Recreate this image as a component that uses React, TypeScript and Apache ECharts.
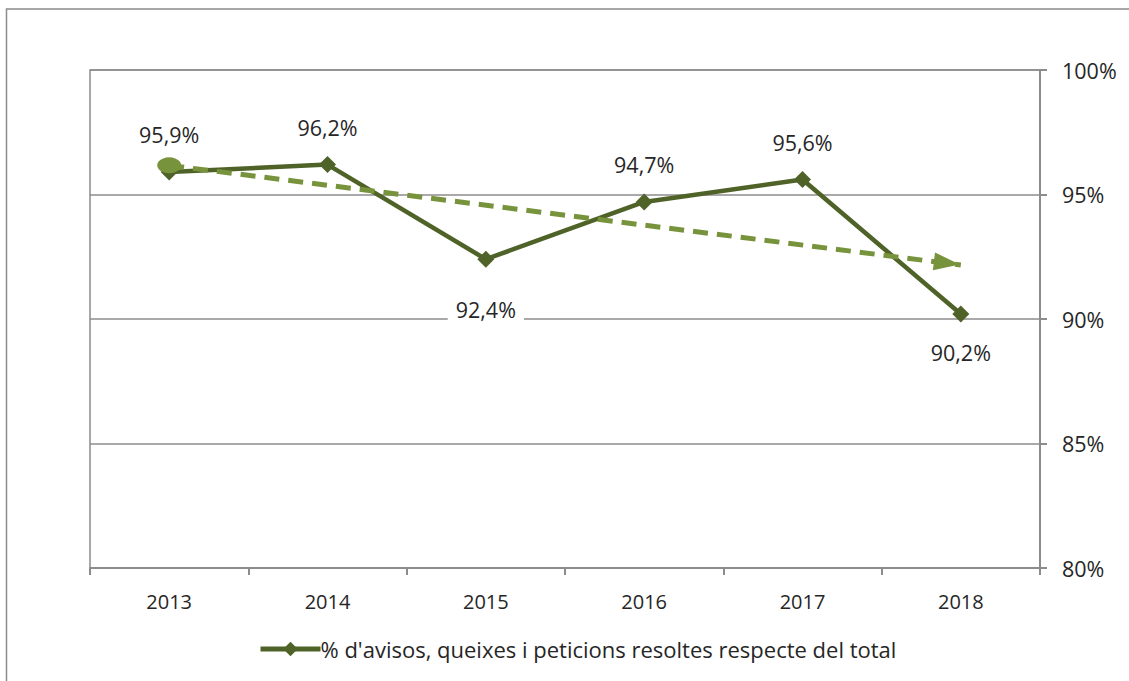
import React, { useEffect, useRef } from "react";
import * as echarts from "echarts";

const categories = ["2013", "2014", "2015", "2016", "2017", "2018"];
const resolvedPct = [95.9, 96.2, 92.4, 94.7, 95.6, 90.2];
const trendStart = 96.17;
const trendEnd = 92.17;
const yTicks = [80, 85, 90, 95, 100];
const seriesName = "% d'avisos, queixes i peticions resoltes respecte del total";

const FONT = "'Open Sans', 'Noto Sans', sans-serif";
const TXT = "#262626";
const GRID = "#8c8c8c";
const DARK = "#4F6228";
const LIGHT = "#77933C";

const fmt = (v: number) => v.toFixed(1).replace(".", ",") + "%";

export default function App() {
  const ref = useRef<HTMLDivElement>(null);
  useEffect(() => {
    if (!ref.current) return;
    const chart = echarts.init(ref.current, undefined, { renderer: "svg" });

    const belowDist: Record<number, number> = { 2: 29, 5: 17 };
    const mainData = resolvedPct.map((v, i) =>
      belowDist[i] !== undefined
        ? { value: v, label: { position: "bottom", distance: belowDist[i] } }
        : { value: v }
    );

    const trendData: any[] = categories.map(() => null);
    trendData[0] = { value: trendStart, symbol: "circle", symbolSize: [24, 16] };
    trendData[categories.length - 1] = {
      value: trendEnd,
      symbol: "triangle",
      symbolSize: [18, 26],
      symbolRotate: -97,
      symbolOffset: [-14, -2],
    };

    chart.setOption({
      animation: false,
      graphic: [
        {
          type: "rect",
          shape: { x: 6.5, y: 9, width: 1300, height: 900 },
          style: { fill: "none", stroke: GRID, lineWidth: 1.5 },
          silent: true,
        },
      ],
      grid: {
        left: 90,
        top: 70,
        right: 89,
        bottom: 113,
        show: true,
        borderColor: GRID,
        borderWidth: 1.5,
      },
      legend: {
        data: [seriesName],
        left: 253,
        top: 633,
        itemWidth: 60,
        itemHeight: 18,
        itemGap: 0,
        lineStyle: { width: 5, color: DARK },
        itemStyle: { color: DARK },
        textStyle: { fontSize: 22, color: TXT, fontFamily: FONT, padding: [0, 0, 0, -5] },
      },
      xAxis: {
        type: "category",
        data: categories,
        boundaryGap: true,
        axisLine: { lineStyle: { color: GRID, width: 2 } },
        axisTick: { show: true, length: 7, lineStyle: { color: GRID, width: 2 } },
        axisLabel: { fontSize: 20, color: TXT, fontFamily: FONT, margin: 23 },
      },
      yAxis: {
        type: "value",
        position: "right",
        min: yTicks[0],
        max: yTicks[yTicks.length - 1],
        interval: 5,
        axisLine: { show: true, lineStyle: { color: GRID, width: 2 } },
        axisTick: { show: true, length: 7, lineStyle: { color: GRID, width: 2 } },
        splitLine: { lineStyle: { color: GRID, width: 1.5 } },
        axisLabel: {
          fontSize: 21.5,
          color: TXT,
          fontFamily: FONT,
          margin: 22,
          formatter: (v: number) => v + "%",
        },
      },
      series: [
        {
          name: seriesName,
          type: "line",
          data: mainData,
          z: 2,
          symbol: "diamond",
          symbolSize: 17,
          lineStyle: { color: DARK, width: 4.5 },
          itemStyle: { color: DARK },
          label: {
            show: true,
            position: "top",
            distance: 16,
            fontSize: 21.5,
            color: TXT,
            fontFamily: FONT,
            backgroundColor: "#ffffff",
            padding: [2, 8],
            formatter: (p: any) => fmt(p.value),
          },
        },
        {
          name: "trend",
          type: "line",
          data: trendData,
          connectNulls: true,
          z: 3,
          lineStyle: { color: LIGHT, width: 5, type: [15, 9] },
          itemStyle: { color: LIGHT },
          label: { show: false },
        },
      ],
    });
    return () => chart.dispose();
  }, []);
  return (
    <div
      ref={ref}
      style={{ position: "absolute", left: 0, top: 0, width: 1129, height: 681, background: "#fff" }}
    />
  );
}
